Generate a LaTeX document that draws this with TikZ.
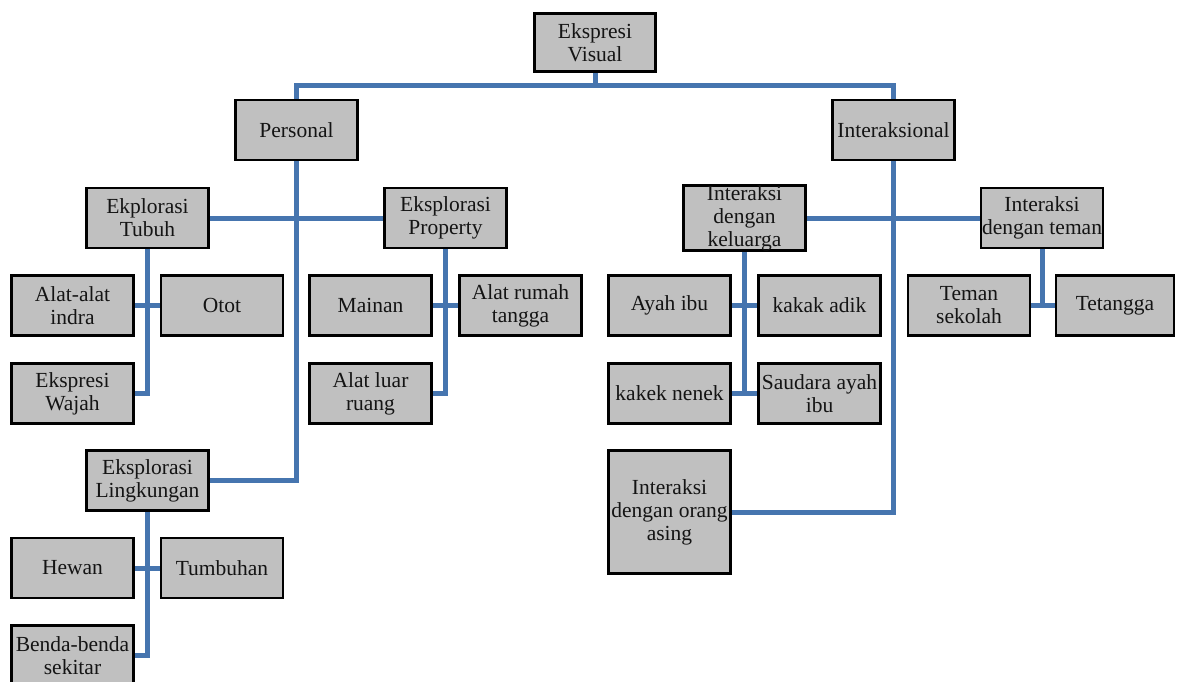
\documentclass[tikz,border=0pt]{standalone}
\usepackage{fontspec}
\setmainfont{Liberation Serif}
\usetikzlibrary{backgrounds}
\definecolor{connblue}{RGB}{70,117,175}
\definecolor{boxgray}{RGB}{192,192,192}
\definecolor{txt}{RGB}{20,20,20}
\tikzset{
  box/.style={draw=black, line width=2.6pt, fill=boxgray, minimum width=122pt, minimum height=60pt,
    inner sep=0pt, align=center, text=txt, font=\fontsize{21.5}{23}\selectfont},
  conn/.style={draw=connblue, line width=5pt, line join=miter}
}
\begin{document}
\begin{tikzpicture}[x=1pt,y=-1pt]
\useasboundingbox (0,0) rectangle (1177,681);
\node[box, minimum width=121pt, minimum height=58pt] (ev) at (595,42.5) {Ekspresi\\Visual};
\node[box] (pers) at (296.5,130) {Personal};
\node[box] (inter) at (893.5,130) {Interaksional};
\node[box] (tubuh) at (147.5,218) {Ekplorasi\\Tubuh};
\node[box] (prop) at (445.5,218) {Eksplorasi\\Property};
\node[box] (indra) at (72.5,305.5) {Alat-alat\\indra};
\node[box] (otot) at (222,305.5) {Otot};
\node[box] (wajah) at (72.5,393.5) {Ekspresi\\Wajah};
\node[box] (mainan) at (370.5,305.5) {Mainan};
\node[box] (rumah) at (520.5,305.5) {Alat rumah\\tangga};
\node[box] (luar) at (370.5,393.5) {Alat luar\\ruang};
\node[box] (ling) at (147.5,480.5) {Eksplorasi\\Lingkungan};
\node[box] (hewan) at (72.5,568) {Hewan};
\node[box] (tumb) at (222,568) {Tumbuhan};
\node[box] (benda) at (72.5,655.5) {Benda-benda\\sekitar};
\node[box] (kel) at (744.5,218) {Interaksi\\dengan\\keluarga};
\node[box] (teman) at (1042,218) {Interaksi\\dengan teman};
\node[box] (ayah) at (669.5,305.5) {Ayah ibu};
\node[box] (kakak) at (819.5,305.5) {kakak adik};
\node[box] (kakek) at (669.5,393.5) {kakek nenek};
\node[box] (saud) at (819.5,393.5) {Saudara ayah\\ibu};
\node[box, minimum height=123pt] (asing) at (669.5,512) {Interaksi\\dengan orang\\asing};
\node[box] (tsek) at (969,305.5) {Teman\\sekolah};
\node[box, minimum width=118pt] (tet) at (1115,305.5) {Tetangga};
\coordinate (top) at (595,85.5);
\begin{scope}[on background layer]
\fill[white] (0,0) rectangle (1177,681);
\draw[conn] (ev.south) -- (top);
\draw[conn] (pers.north) |- (top) -| (inter.north);
\draw[conn] (pers.south) |- (ling.east);
\draw[conn] (tubuh.east) -- (prop.west);
\draw[conn] (tubuh.south) |- (wajah.east);
\draw[conn] (indra.east) -- (otot.west);
\draw[conn] (prop.south) |- (luar.east);
\draw[conn] (mainan.east) -- (rumah.west);
\draw[conn] (ling.south) |- (benda.east);
\draw[conn] (hewan.east) -- (tumb.west);
\draw[conn] (inter.south) |- (asing.east);
\draw[conn] (kel.east) -- (teman.west);
\draw[conn] (kel.south) |- (kakek.east);
\draw[conn] (kakek.east) -- (saud.west);
\draw[conn] (ayah.east) -- (kakak.west);
\draw[conn] (teman.south) |- (tsek.east);
\draw[conn] (tsek.east) -- (tet.west);
\end{scope}
\end{tikzpicture}
\end{document}
